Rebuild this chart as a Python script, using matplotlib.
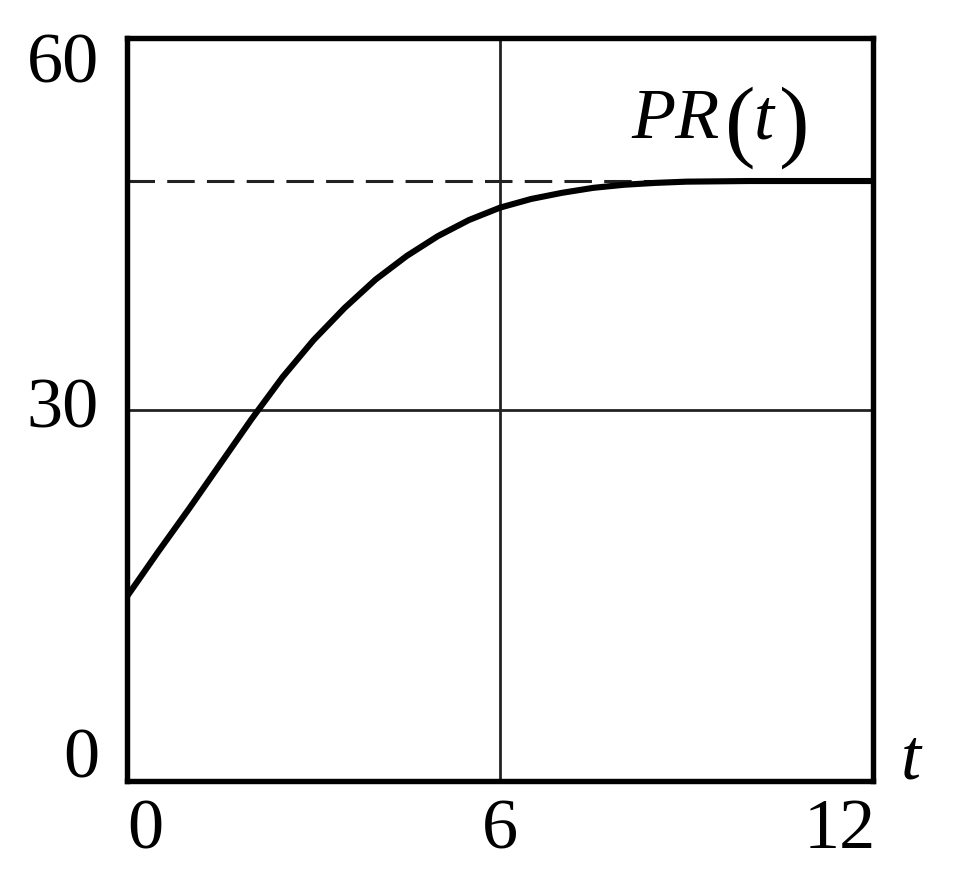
import matplotlib
matplotlib.use("Agg")
import matplotlib.pyplot as plt

# Data
t_vals = [0, 0.5, 1, 1.5, 2, 2.5, 3, 3.5, 4, 4.5, 5, 5.5, 6, 6.5, 7, 7.5, 8, 8.5, 9, 10, 11, 12]
pr_vals = [14.9, 18.5, 22.0, 25.6, 29.2, 32.6, 35.6, 38.2, 40.5, 42.4, 44.0, 45.3, 46.3, 47.0, 47.5, 47.9,
           48.15, 48.3, 48.4, 48.45, 48.45, 48.45]
asymptote = 48.45
x_ticks = [0, 6, 12]
x_tick_labels = ["0", "6", "12"]
y_ticks = [0, 30, 60]
y_tick_labels = ["0", "30", "60"]

plt.rcParams['font.family'] = ['Liberation Serif', 'DejaVu Serif']

fig = plt.figure(figsize=(9.66, 8.91), dpi=100)
ax = fig.add_axes([127/966, 1-781/891, (873-127)/966, (781-38)/891])
ax.set_xlim(0, 12)
ax.set_ylim(0, 60)

ax.axvline(6, color='#222222', lw=2.0, zorder=1)
ax.axhline(30, color='#222222', lw=2.0, zorder=1)
ax.axhline(asymptote, color='#222222', lw=2.2, dashes=(9, 4), zorder=2)
ax.plot(t_vals, pr_vals, color='black', lw=4.4, zorder=3, solid_joinstyle='round',
        solid_capstyle='butt')

for s in ax.spines.values():
    s.set_linewidth(3.9)
ax.set_xticks([])
ax.set_yticks([])

fs = 52
# y tick labels (placed as in the reference)
y_pos = {"60": 57.8, "30": 30.0, "0": 1.7}
for lab in y_tick_labels:
    ax.text(-0.45, y_pos[lab], lab, ha='right', va='center', fontsize=fs, clip_on=False)
x_pos = {"0": 0.29, "6": 6.0, "12": 11.47}
for lab in x_tick_labels:
    ax.text(x_pos[lab], -4.0, lab, ha='center', va='center', fontsize=fs, clip_on=False)

ax.text(12.45, 0.2, "t", ha='left', va='baseline', fontsize=fs, style='italic', clip_on=False)

ax.text(8.11, 51.9, "PR", ha='left', va='baseline', fontsize=fs, style='italic')
ax.text(9.62, 51.0, "(", ha='left', va='baseline', fontsize=66)
ax.text(10.08, 51.9, "t", ha='left', va='baseline', fontsize=fs, style='italic')
ax.text(10.48, 51.0, ")", ha='left', va='baseline', fontsize=66)

fig.savefig("out.png", dpi=100)
